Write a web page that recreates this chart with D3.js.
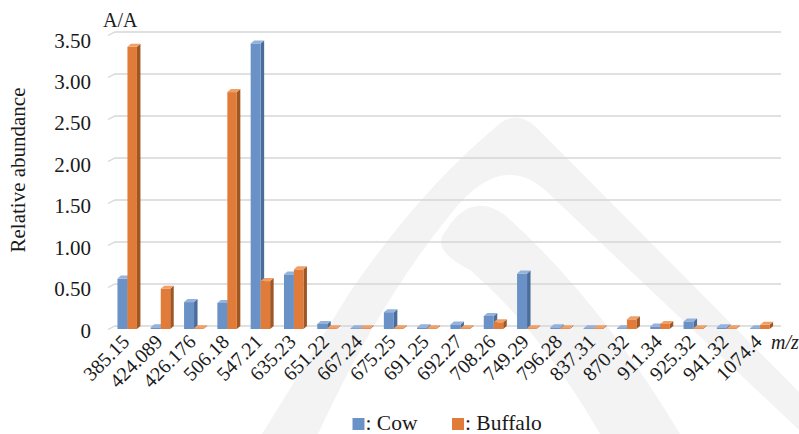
<!DOCTYPE html>
<html>
<head>
<meta charset="utf-8">
<script src="https://cdn.jsdelivr.net/npm/d3@7"></script>
<style>
  html, body { margin: 0; padding: 0; background: #fff; }
  svg { display: block; }
  svg text { font-family: "Liberation Serif", "DejaVu Serif", serif; fill: #1a1a1a; }
</style>
</head>
<body>
<svg id="chart" width="799" height="434"></svg>
<script>
// m/z values of the detected peptides
const categories = ["385.15", "424.089", "426.176", "506.18", "547.21", "635.23", "651.22",
  "667.24", "675.25", "691.25", "692.27", "708.26", "749.29", "796.28", "837.31",
  "870.32", "911.34", "925.32", "941.32", "1074.4"];

// relative abundance (A/A) per species
const cow = [0.60, 0.02, 0.32, 0.31, 3.40, 0.65, 0.06, 0.01, 0.20, 0.02, 0.055, 0.155,
  0.66, 0.02, 0.01, 0.01, 0.03, 0.09, 0.02, 0.01];
const buffalo = [3.36, 0.48, 0.01, 2.82, 0.57, 0.71, 0.01, 0.01, 0.01, 0.01, 0.01, 0.08,
  0.01, 0.01, 0.01, 0.115, 0.06, 0.01, 0.01, 0.05];

const seriesNames = ["Cow", "Buffalo"];
const tickValues = [0, 0.5, 1, 1.5, 2, 2.5, 3, 3.5];
const tickLabels = ["0", "0.50", "1.00", "1.50", "2.00", "2.50", "3.00", "3.50"];

const serif = "'Liberation Serif', 'DejaVu Serif', serif";
const svg = d3.select("#chart");

// faint background emblem
const wm = svg.append("g");
wm.append("path")
  .attr("d", "M262 434 L350 292 Q420 190 497 126 Q517 108 537 128 L799 392 L799 434 Z")
  .attr("fill", "#f3f3f3");
wm.append("path")
  .attr("d", "M318 434 Q380 300 450 215 Q500 150 545 190 Q640 280 799 430 L799 434 Z")
  .attr("fill", "#ffffff");
wm.append("path")
  .attr("d", "M445 232 Q470 190 505 215 Q600 300 680 434 L600 434 Q540 330 470 270 Q430 250 445 232 Z")
  .attr("fill", "#f3f3f3");

const colors = {
  Cow:     { front: "#6a92c6", side: "#4b6d9c", top: "#94b2dc" },
  Buffalo: { front: "#e07b39", side: "#9e5622", top: "#f0a067" }
};

// scales: back wall (gridlines), front face (bars), axis labels
const yBack = d3.scaleLinear().domain([0, 3.5]).range([326, 32]);
const yFront = d3.scaleLinear().domain([0, 3.5]).range([329, 35]);
const yLabel = d3.scaleLinear().domain([0, 3.5]).range([337, 47]);

const x = d3.scaleBand().domain(categories).range([110.8, 776.8])
  .paddingInner(0.4).paddingOuter(0.2);
const xs = d3.scaleBand().domain(seriesNames).range([0, x.bandwidth()]);

const depthX = 3.5, depthY = 3;

// gridlines on the back wall with a short slanted segment on the side wall
const grid = svg.append("g");
grid.selectAll("path").data(tickValues).join("path")
  .attr("d", v => `M108 ${yBack(v) + 3.5} L115 ${yBack(v)} L781 ${yBack(v)}`)
  .attr("fill", "none")
  .attr("stroke", "#d6d6d6")
  .attr("stroke-width", 1.3);

// y axis labels
const yAxis = svg.append("g")
  .attr("transform", "translate(91,0)")
  .call(d3.axisLeft(yLabel).tickValues(tickValues)
    .tickFormat((d, i) => tickLabels[i]).tickSize(0).tickPadding(0));
yAxis.select(".domain").remove();
yAxis.attr("font-family", serif);
yAxis.selectAll("text")
  .attr("dy", null)
  .style("font-size", "21px");

// 3D columns
const rows = categories.map((c, i) => ({ c, Cow: cow[i], Buffalo: buffalo[i] }));
const bars = svg.append("g");
seriesNames.forEach(s => {
  const g = bars.append("g");
  const w = s === "Cow" ? xs.bandwidth() : xs.bandwidth() - 0.5;
  const items = rows.map(r => {
    const x0 = x(r.c) + xs(s);
    return { x0, x1: x0 + w, yt: yFront(r[s]), yb: yFront(0) };
  });
  g.selectAll("path.side").data(items).join("path")
    .attr("class", "side")
    .attr("d", d => `M${d.x1} ${d.yt} L${d.x1 + depthX} ${d.yt - depthY} L${d.x1 + depthX} ${d.yb - depthY} L${d.x1} ${d.yb} Z`)
    .attr("fill", colors[s].side);
  g.selectAll("rect").data(items).join("rect")
    .attr("x", d => d.x0).attr("y", d => d.yt)
    .attr("width", d => d.x1 - d.x0).attr("height", d => d.yb - d.yt)
    .attr("fill", colors[s].front);
  g.selectAll("path.top").data(items).join("path")
    .attr("class", "top")
    .attr("d", d => `M${d.x0} ${d.yt} L${d.x0 + depthX} ${d.yt - depthY} L${d.x1 + depthX} ${d.yt - depthY} L${d.x1} ${d.yt} Z`)
    .attr("fill", colors[s].top);
});

// x axis labels, rotated
const xAxis = svg.append("g")
  .attr("transform", "translate(0,343)")
  .call(d3.axisBottom(x).tickSize(0).tickPadding(0));
xAxis.select(".domain").remove();
xAxis.attr("font-family", serif);
xAxis.selectAll("text")
  .attr("x", 0).attr("y", 0).attr("dy", null)
  .attr("transform", "translate(3,0) rotate(-45)")
  .attr("text-anchor", "end")
  .style("font-size", "20px");

// axis titles
svg.append("text").attr("x", 103).attr("y", 27).style("font-size", "20px").text("A/A");
svg.append("text")
  .attr("transform", "translate(25,170) rotate(-90)")
  .attr("text-anchor", "middle").style("font-size", "21px")
  .text("Relative abundance");
svg.append("text").attr("x", 771).attr("y", 349).style("font-size", "20px")
  .style("font-style", "italic").text("m/z");

// legend
const legendX = [352.5, 452];
const legend = svg.append("g");
seriesNames.forEach((s, i) => {
  legend.append("rect").attr("x", legendX[i]).attr("y", 418)
    .attr("width", 12).attr("height", 12).attr("fill", colors[s].front);
  legend.append("text").attr("x", legendX[i] + 13).attr("y", 430)
    .style("font-size", "21.5px").text(": " + s);
});
</script>
</body>
</html>
